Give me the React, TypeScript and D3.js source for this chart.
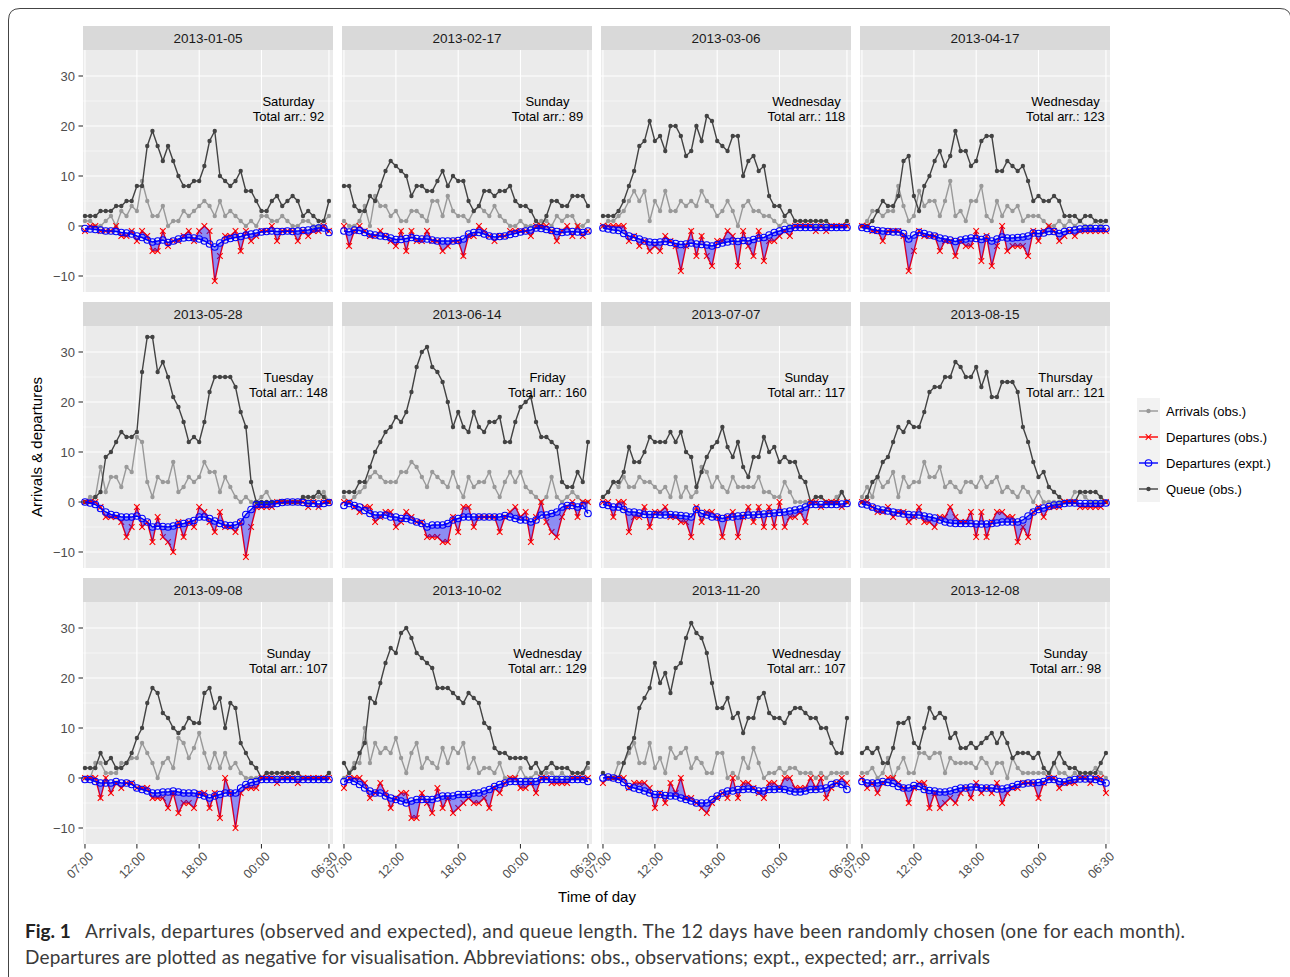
import React from "react";
import * as d3 from "d3";

// facets, one per month
const dates = ["2013-01-05", "2013-02-17", "2013-03-06", "2013-04-17", "2013-05-28", "2013-06-14",
  "2013-07-07", "2013-08-15", "2013-09-08", "2013-10-02", "2013-11-20", "2013-12-08"];
const weekdays = ["Saturday", "Sunday", "Wednesday", "Wednesday", "Tuesday", "Friday",
  "Sunday", "Thursday", "Sunday", "Wednesday", "Wednesday", "Sunday"];
const totalArrivals = [92, 89, 118, 123, 148, 160, 117, 121, 107, 129, 107, 98];

// 48 half-hour slots from 07:00 to 06:30 (hours after 07:00)
const slots = d3.range(48).map(i => i * 0.5);
const tickHours = [0, 5, 11, 17, 23.5];
const tickLabels = ["07:00", "12:00", "18:00", "00:00", "06:30"];
const yTicks = [-10, 0, 10, 20, 30];
const yMinor = [-5, 5, 15, 25];

const arrivals = [
  [1,1,0,0,1,2,0,3,2,4,3,9,5,2,2,4,0,1,1,3,2,3,4,5,4,2,5,2,3,2,1,0,1,0,2,2,1,1,2,1,0,0,1,1,0,0,1,2],
  [1,0,0,1,4,0,6,4,4,2,3,1,1,3,3,2,1,5,5,2,6,3,2,2,1,3,4,3,2,4,2,1,0,0,1,0,0,0,1,1,0,2,1,2,2,0,0,1],
  [0,1,1,2,3,5,7,5,7,1,5,3,7,3,3,5,4,5,4,7,5,4,2,3,5,3,0,4,5,3,3,2,2,1,0,1,0,0,0,0,0,0,0,0,0,0,0,0],
  [0,1,3,3,2,3,3,8,4,1,2,7,4,5,5,2,5,9,2,3,1,5,5,8,2,1,5,2,4,3,4,1,2,2,2,1,0,0,1,0,1,0,1,0,0,1,0,1],
  [0,1,1,7,2,5,5,3,7,6,13,12,4,1,5,4,4,8,2,3,5,4,5,8,6,6,2,5,3,1,0,1,0,0,1,2,0,0,0,0,0,0,1,0,1,1,2,0],
  [1,0,1,2,3,5,6,5,4,4,4,6,6,8,7,5,3,6,5,4,3,6,3,1,5,3,4,4,6,3,1,4,6,4,6,3,2,1,0,1,5,1,0,1,2,1,0,0],
  [1,2,4,3,5,3,3,5,4,4,3,2,3,1,5,1,3,1,2,7,6,3,5,3,2,5,3,3,3,3,5,2,2,1,1,4,2,0,0,0,0,1,1,0,0,1,2,0],
  [1,3,1,5,3,4,6,1,5,3,4,4,8,5,5,7,3,4,3,2,4,4,3,5,3,4,5,2,3,2,1,3,2,0,2,0,0,0,0,0,0,2,2,1,0,0,0,0],
  [0,0,3,3,1,1,1,3,3,4,4,7,5,3,0,3,4,2,8,7,4,6,9,5,2,5,2,5,2,3,1,0,0,0,0,1,0,0,0,0,0,0,0,0,0,0,0,1],
  [0,1,3,3,10,3,7,5,6,5,8,4,1,5,7,2,4,3,2,6,3,6,5,7,2,4,1,2,2,1,3,0,0,0,2,0,0,1,0,1,1,0,1,0,0,0,1,2],
  [1,0,0,3,3,5,7,3,3,7,2,4,1,6,4,5,6,2,4,3,1,1,5,5,0,1,0,4,2,6,3,0,1,1,2,1,2,2,1,1,1,0,1,0,1,1,1,1],
  [1,1,2,0,1,4,0,2,4,1,1,5,5,4,5,5,1,4,3,3,3,3,2,4,3,1,3,3,0,4,2,1,1,1,1,1,0,3,1,1,0,1,0,0,1,2,1,0],
];

const queue = [
  [2,2,2,3,3,3,4,4,5,5,8,8,16,19,16,13,16,13,10,8,8,9,9,12,17,19,10,9,8,9,11,7,7,5,3,3,5,6,4,5,6,5,2,3,2,1,1,5],
  [8,8,4,3,3,6,5,8,11,13,12,11,10,6,8,8,7,7,9,11,8,10,9,9,5,3,4,7,7,6,7,7,8,5,4,4,3,1,0,2,5,5,4,4,6,6,6,4],
  [2,2,2,3,5,8,11,16,17,21,17,18,15,20,20,18,14,15,20,17,22,21,17,16,15,18,18,10,13,14,11,12,6,4,4,2,3,1,1,1,1,1,1,1,0,0,0,1],
  [0,0,1,3,5,4,4,6,13,14,6,3,8,10,13,15,12,14,19,15,15,12,13,17,18,18,11,11,13,12,11,12,9,5,6,5,5,6,5,2,2,2,1,2,2,1,1,1],
  [0,0,1,2,9,10,12,14,13,13,14,26,33,33,26,28,25,21,19,16,12,13,12,16,22,25,25,25,25,23,18,15,4,0,0,0,0,0,0,0,0,0,1,1,1,2,1,0],
  [2,2,2,4,4,7,10,12,14,15,17,16,18,22,27,30,31,27,26,24,20,15,18,15,14,18,15,14,16,16,17,12,12,16,19,20,21,16,13,13,12,11,4,3,3,6,4,12],
  [1,2,4,4,6,11,8,8,10,13,12,12,12,14,12,14,10,9,3,6,9,11,12,15,11,9,12,7,5,9,9,13,10,11,8,9,8,8,5,4,0,1,1,0,0,0,2,0],
  [0,1,4,5,8,9,12,15,14,16,15,15,18,22,23,23,25,25,28,27,25,25,27,23,26,21,21,24,24,24,22,15,12,8,5,6,3,2,1,0,0,0,2,2,2,2,1,0],
  [2,2,2,5,3,4,2,2,3,5,8,10,15,18,17,13,12,10,9,10,12,11,11,17,18,14,16,10,15,14,7,5,3,2,0,1,1,1,1,1,1,1,0,0,0,0,0,1],
  [3,1,2,5,7,16,15,19,23,26,25,29,30,28,25,24,23,22,18,18,18,17,16,15,17,16,15,11,10,6,5,5,4,4,4,4,2,3,1,2,3,2,2,2,1,1,1,3],
  [1,0,0,0,3,6,8,14,16,18,23,19,21,17,22,23,28,31,29,28,25,19,14,14,16,12,13,9,12,12,16,17,13,12,12,11,13,14,14,13,12,12,10,10,7,5,5,12],
  [5,6,5,6,3,3,6,11,11,12,7,6,10,14,12,13,12,8,9,6,6,7,6,7,8,9,7,9,7,4,5,5,5,4,5,2,1,3,5,3,2,2,1,1,1,1,3,5],
];

const depObs = [
  [-1,0,0,-1,-1,-1,0,-2,-2,-1,-3,-1,-2,-5,-5,-1,-4,-3,-3,-2,-1,-3,-1,0,-1,-11,-6,-2,-2,-1,-5,-1,-3,-2,-1,-1,0,-3,-1,-1,-1,-3,-1,-2,-1,-1,0,-1],
  [0,-4,-1,0,-1,-2,-2,-1,-2,-3,-4,-1,-5,-1,-3,-3,-1,-3,-3,-5,-4,-3,-3,-6,-2,-2,0,-1,-2,-3,-2,-2,-1,-1,-1,-1,-2,0,0,0,-1,-3,-1,0,-2,0,-2,-1],
  [0,0,0,0,0,-3,-2,-4,-3,-5,-4,-5,-2,-3,-4,-9,-4,-1,-6,-2,-6,-8,-3,-3,-1,-2,-8,-1,-4,-6,-1,-7,-3,-3,-2,-1,-2,0,0,0,0,-1,0,-1,0,0,0,0],
  [0,0,-1,-1,-3,-1,-1,-1,-2,-9,-5,-1,-2,-2,-2,-5,-3,-3,-6,-3,-4,-4,-1,-7,-2,-8,-4,0,-5,-4,-4,-4,-6,-1,-3,-1,0,-1,-3,-2,-1,-2,-1,-1,-1,-1,-1,-1],
  [0,0,0,-1,-3,-3,-3,-4,-7,-5,-1,-5,-4,-8,-3,-7,-8,-10,-4,-7,-4,-5,-1,-2,-4,-6,-2,-5,-5,-6,-4,-11,-5,-1,-1,-1,-1,0,0,0,0,0,0,-1,0,-1,0,0],
  [0,0,-1,-2,-1,-1,-4,-3,-2,-2,-5,-4,-2,-3,-4,-4,-7,-7,-7,-8,-8,-3,-6,-1,-1,-5,-3,-3,-3,-3,-6,-3,-2,-1,-3,-2,-8,-3,0,-4,-6,-7,-3,-1,0,-3,0,0],
  [0,0,-3,0,0,-6,-3,-3,-1,-5,-2,-2,-1,-3,-3,-4,-4,-7,-1,-4,-2,-2,-3,-7,-3,-2,-7,-3,-1,-4,-1,-5,-1,-5,0,-5,-3,-3,-2,-4,0,0,-1,0,0,0,-1,0],
  [0,0,-1,-2,-2,-1,-3,-2,-2,-4,-3,-1,-4,-4,-5,-3,-3,-1,-3,-4,-4,-2,-7,-2,-7,-4,-2,-2,-3,-3,-8,-5,-7,-2,-1,-3,-1,-1,-1,0,0,0,-1,-1,-1,-1,-1,0],
  [0,0,0,-4,0,-3,-1,-2,-1,-1,-2,-2,-2,-4,-4,-4,-6,-3,-7,-5,-5,-6,-3,-3,-6,-3,-8,0,-3,-10,-3,-2,-2,-2,0,0,0,-1,0,0,0,-1,0,0,0,0,0,0],
  [-2,0,0,0,-1,-4,-3,-1,-3,-6,-4,-3,-3,-8,-8,-3,-5,-7,-2,-6,-4,-7,-6,-5,-4,-5,-5,-4,-6,-2,-3,-1,0,0,-2,-2,-1,-3,0,0,-1,-1,-1,-1,0,0,0,0],
  [-1,0,0,0,0,-2,-1,-1,-1,-2,-6,-3,-5,-1,-3,0,-4,-4,-5,-6,-7,-5,-4,-3,-4,0,-4,-1,-1,-2,-3,-4,-1,-1,-2,0,0,-2,-2,-2,0,-2,0,-4,-2,-1,0,-1],
  [0,-2,-1,-3,-1,0,0,-1,-2,-5,-2,-1,-1,-6,-3,-6,-5,-4,-5,-3,-2,-4,-1,-3,-2,-3,-1,-5,-3,-2,-2,-1,-1,-1,-4,-1,0,0,-2,-1,-1,-1,0,0,-1,0,0,-3],
];

const depExp = [
  [-0.5,-0.6,-0.7,-0.8,-1.0,-1.0,-1.1,-1.3,-1.4,-1.6,-2.0,-2.3,-2.8,-3.2,-3.0,-2.8,-3.3,-3.0,-2.6,-2.4,-2.3,-2.4,-2.6,-3.0,-3.6,-4.2,-3.4,-2.8,-2.5,-2.3,-2.1,-1.8,-1.6,-1.4,-1.2,-1.1,-1.0,-1.1,-1.1,-1.0,-1.1,-1.0,-0.9,-0.8,-0.6,-0.4,-0.4,-1.3],
  [-1.0,-1.2,-0.8,-0.9,-1.3,-1.6,-1.8,-2.0,-2.1,-2.4,-2.7,-2.7,-2.5,-2.3,-2.5,-2.6,-2.6,-2.8,-3.0,-3.0,-3.0,-3.0,-2.9,-2.6,-1.6,-1.3,-1.3,-1.6,-2.0,-2.2,-2.1,-2.0,-1.7,-1.5,-1.2,-1.0,-0.8,-0.4,-0.5,-0.7,-0.9,-1.1,-1.3,-1.2,-1.1,-1.2,-1.3,-1.0],
  [-0.4,-0.6,-0.8,-0.9,-1.5,-2.0,-2.3,-2.6,-3.0,-3.2,-3.3,-3.2,-3.1,-3.3,-3.5,-3.7,-3.6,-3.4,-3.6,-3.7,-3.8,-4.0,-3.7,-3.4,-3.2,-3.0,-3.1,-2.9,-3.0,-2.7,-2.4,-2.3,-1.8,-1.3,-1.0,-0.7,-0.5,-0.3,-0.3,-0.3,-0.3,-0.3,-0.3,-0.3,-0.3,-0.3,-0.3,-0.3],
  [-0.3,-0.5,-0.7,-0.9,-1.0,-1.1,-1.2,-1.2,-1.5,-2.6,-1.8,-1.3,-1.5,-1.8,-2.0,-2.4,-2.6,-2.8,-3.1,-2.8,-2.6,-2.4,-2.5,-2.7,-2.4,-3.0,-2.6,-2.2,-2.4,-2.4,-2.3,-2.2,-2.0,-1.4,-1.5,-1.4,-1.1,-1.1,-1.5,-1.1,-0.9,-0.8,-0.6,-0.5,-0.5,-0.5,-0.5,-0.5],
  [0,-0.2,-0.5,-1.3,-2.0,-2.5,-2.7,-3.0,-3.0,-3.0,-2.8,-3.3,-4.0,-5.0,-4.8,-4.9,-5.0,-4.8,-4.5,-4.3,-4.0,-3.7,-3.0,-3.0,-3.3,-3.8,-4.3,-4.6,-4.7,-4.6,-4.0,-2.5,-1.5,-0.5,-0.5,-0.5,-0.4,-0.3,-0.1,0,0,0,-0.1,-0.3,-0.3,-0.4,-0.3,-0.1],
  [-0.7,-0.3,-0.7,-1.0,-1.7,-2.3,-2.6,-2.6,-2.6,-3.0,-3.0,-3.3,-3.3,-3.6,-4.0,-4.3,-5.0,-4.6,-4.6,-4.6,-4.3,-3.6,-3.3,-3.0,-3.0,-3.0,-3.0,-3.0,-3.0,-3.0,-3.0,-2.7,-3.0,-3.3,-3.6,-3.6,-4.0,-3.6,-2.6,-2.6,-2.3,-2.0,-1.0,-0.7,-0.7,-1.0,-0.7,-2.3],
  [-0.5,-0.7,-1.0,-1.0,-1.5,-2.0,-2.0,-2.2,-2.5,-2.5,-2.5,-2.6,-2.6,-2.5,-2.6,-2.7,-2.8,-3.0,-1.5,-2.3,-2.6,-3.0,-3.0,-3.3,-3.0,-3.0,-2.8,-2.7,-2.6,-2.6,-2.5,-2.4,-2.3,-2.2,-2.1,-2.0,-1.8,-1.6,-1.4,-1.0,-0.5,-0.5,-0.5,-0.5,-0.5,-0.5,-0.4,-0.3],
  [-0.4,-0.6,-1.0,-1.4,-1.6,-1.8,-2.0,-2.2,-2.4,-2.5,-2.6,-2.6,-2.8,-3.0,-3.2,-3.6,-4.0,-4.2,-4.3,-4.3,-4.3,-4.3,-4.4,-4.4,-4.4,-4.3,-4.2,-4.0,-4.0,-4.0,-4.0,-3.6,-2.8,-2.0,-1.5,-1.2,-0.9,-0.6,-0.5,-0.3,-0.2,-0.2,-0.3,-0.3,-0.3,-0.3,-0.3,-0.2],
  [-0.3,-0.3,-0.7,-1.0,-1.0,-1.0,-0.7,-1.0,-1.0,-1.3,-2.0,-2.3,-2.6,-3.0,-3.0,-2.8,-2.8,-2.6,-2.8,-3.0,-3.0,-3.0,-3.3,-3.6,-4.0,-3.6,-3.3,-3.0,-3.0,-3.0,-2.0,-1.3,-0.9,-0.7,-0.3,-0.3,-0.3,-0.3,-0.3,-0.3,-0.3,-0.3,-0.3,-0.3,-0.3,-0.3,-0.3,-0.3],
  [-0.7,-0.3,-0.7,-1.3,-2.0,-2.6,-3.0,-3.0,-3.6,-4.0,-4.3,-4.6,-5.0,-4.6,-4.3,-4.3,-4.3,-4.3,-4.0,-3.6,-3.6,-3.6,-3.3,-3.3,-3.3,-3.0,-3.0,-2.6,-2.3,-1.7,-1.3,-1.0,-0.7,-0.7,-0.7,-0.7,-0.7,-0.7,-0.3,-0.3,-0.3,-0.3,-0.3,-0.3,-0.3,-0.3,-0.3,-0.7],
  [0,0.2,0,-0.3,-0.9,-1.7,-2.0,-2.3,-2.6,-3.0,-3.3,-3.3,-3.5,-3.6,-3.6,-4.0,-4.3,-4.6,-5.0,-5.0,-5.0,-4.3,-3.6,-3.0,-2.6,-2.6,-2.3,-2.3,-2.2,-2.3,-2.6,-2.6,-2.3,-2.3,-2.2,-2.3,-2.6,-2.8,-2.8,-2.6,-2.3,-2.3,-2.2,-2.0,-1.3,-1.0,-1.3,-2.3],
  [-0.7,-1.0,-1.0,-1.0,-0.7,-0.9,-1.1,-1.7,-2.0,-2.0,-1.5,-1.7,-2.3,-2.5,-2.6,-2.8,-2.8,-2.6,-2.3,-2.0,-2.0,-1.8,-1.8,-2.0,-2.0,-2.0,-2.2,-2.2,-2.0,-1.7,-1.3,-1.2,-1.0,-1.0,-0.9,-0.7,-0.3,-0.3,-0.7,-0.8,-0.5,-0.3,-0.2,-0.2,-0.2,-0.3,-0.7,-1.0],
];

// where the weekday note sits (data units)
const noteHour = 19.6;
const noteValue = 24;

const legendLabels = ["Arrivals (obs.)", "Departures (obs.)", "Departures (expt.)", "Queue (obs.)"];

const W = 1290, H = 977;
const panelW = 250, panelH = 242;
const left0 = 83, top0 = 50, colStep = 259, rowStep = 276, stripH = 24;

const arrColor = "#999999";
const queueColor = "#434343";
const font = "'Liberation Sans', Arial, sans-serif";
const lw = 1.4;

const x = d3.scaleLinear().domain([-0.19, 23.89]).range([0, panelW]);
const y = d3.scaleLinear().domain([-13.2, 35.2]).range([panelH, 0]);

const line = d3.line<number>().x((d, i) => x(slots[i])).y(d => y(d));
const crossPath = "M-2.8,-2.8L2.8,2.8M-2.8,2.8L2.8,-2.8";

function Panel({ k }: { k: number }) {
  const col = k % 4, row = Math.floor(k / 4);
  const px = left0 + col * colStep, py = top0 + row * rowStep;
  const ribbon = d3.area<number>()
    .x((d, i) => x(slots[i]))
    .y0(d => y(d))
    .y1((d, i) => y(depExp[k][i]));
  return (
    <g>
      <g transform={`translate(${px},${py - stripH})`}>
        <rect width={panelW} height={stripH} fill="#d9d9d9" />
        <text x={panelW / 2} y={stripH / 2} dy="0.35em" textAnchor="middle" fontSize={13.5} fill="#1a1a1a">{dates[k]}</text>
      </g>
      <g transform={`translate(${px},${py})`}>
        <rect width={panelW} height={panelH} fill="#ebebeb" />
        {yMinor.map(v => <line key={"m" + v} x1={0} x2={panelW} y1={y(v)} y2={y(v)} stroke="#fff" strokeWidth={0.55} />)}
        {yTicks.map(v => <line key={"y" + v} x1={0} x2={panelW} y1={y(v)} y2={y(v)} stroke="#fff" strokeWidth={1.1} />)}
        {tickHours.map(h => <line key={"x" + h} x1={x(h)} x2={x(h)} y1={0} y2={panelH} stroke="#fff" strokeWidth={1.1} />)}

        <path d={line(arrivals[k]) || ""} fill="none" stroke={arrColor} strokeWidth={lw} />
        {arrivals[k].map((d, i) => <circle key={"a" + i} cx={x(slots[i])} cy={y(d)} r={2.2} fill={arrColor} />)}

        <path d={line(queue[k]) || ""} fill="none" stroke={queueColor} strokeWidth={lw} />
        {queue[k].map((d, i) => <circle key={"q" + i} cx={x(slots[i])} cy={y(d)} r={2.2} fill={queueColor} />)}

        <path d={line(depObs[k]) || ""} fill="none" stroke="#ff0000" strokeWidth={lw} />
        {depObs[k].map((d, i) => <path key={"r" + i} d={crossPath} transform={`translate(${x(slots[i])},${y(d)})`} stroke="#ff0000" strokeWidth={1.1} fill="none" />)}

        <path d={ribbon(depObs[k]) || ""} fill="#0000ff" fillOpacity={0.4} />

        <path d={line(depExp[k]) || ""} fill="none" stroke="#0000ff" strokeWidth={lw} />
        {depExp[k].map((d, i) => <circle key={"b" + i} cx={x(slots[i])} cy={y(d)} r={3.3} fill="none" stroke="#0000ff" strokeWidth={1.1} />)}

        <text x={x(noteHour)} y={y(noteValue)} textAnchor="middle" fontSize={13} fill="#000">
          <tspan x={x(noteHour)}>{weekdays[k]}</tspan>
          <tspan x={x(noteHour)} dy={15}>{`Total arr.: ${totalArrivals[k]}`}</tspan>
        </text>

        {col === 0 && yTicks.map(v => (
          <g key={"yt" + v} transform={`translate(0,${y(v)})`}>
            <line x1={-4.5} x2={0} stroke="#333" strokeWidth={1.1} />
            <text x={-8} dy="0.35em" textAnchor="end" fontSize={13} fill="#4d4d4d">{v < 0 ? `\u2212${-v}` : v}</text>
          </g>
        ))}
        {row === 2 && tickHours.map((h, i) => (
          <g key={"xt" + h} transform={`translate(${x(h)},${panelH})`}>
            <line y1={0} y2={4.5} stroke="#333" strokeWidth={1.1} />
            <text transform="translate(3,7) rotate(-45)" dy="0.7em" textAnchor="end" fontSize={12.5} fill="#4d4d4d">{tickLabels[i]}</text>
          </g>
        ))}
      </g>
    </g>
  );
}

function LegendKey({ i }: { i: number }) {
  const cy = 411 + i * 26;
  const kx = 1137, kw = 23;
  const colors = [arrColor, "#ff0000", "#0000ff", queueColor];
  return (
    <g>
      <rect x={kx} y={cy - 13} width={kw} height={26} fill="#f2f2f2" />
      <line x1={kx + 2} x2={kx + kw - 2} y1={cy} y2={cy} stroke={colors[i]} strokeWidth={lw} />
      {i === 1 && <path d={crossPath} transform={`translate(${kx + kw / 2},${cy})`} stroke="#ff0000" strokeWidth={1.1} fill="none" />}
      {i === 2 && <circle cx={kx + kw / 2} cy={cy} r={3.3} fill="none" stroke="#0000ff" strokeWidth={1.1} />}
      {(i === 0 || i === 3) && <circle cx={kx + kw / 2} cy={cy} r={2.2} fill={colors[i]} />}
      <text x={1166} y={cy} dy="0.35em" fontSize={13} fill="#000">{legendLabels[i]}</text>
    </g>
  );
}

export default function App() {
  return (
    <svg width={W} height={H} style={{ position: "absolute", left: 0, top: 0, background: "#fff" }} fontFamily={font}>
      <path d="M8.5,977 L8.5,20 Q8.5,8.5 20,8.5 L1280,8.5 Q1290,8.5 1291,18" fill="none" stroke="#444" strokeWidth={1} />
      {dates.map((d, k) => <Panel key={d} k={k} />)}
      {legendLabels.map((l, i) => <LegendKey key={l} i={i} />)}
      <text transform="translate(42,447) rotate(-90)" textAnchor="middle" fontSize={15} fill="#000">Arrivals &amp; departures</text>
      <text x={597} y={902} textAnchor="middle" fontSize={15} fill="#000">Time of day</text>
      <text x={25} y={938} fontSize={19} fontFamily="Lato, 'Open Sans', sans-serif" fontWeight="bold" fill="#222">Fig. 1</text>
      <text x={85} y={938} fontSize={19} fontFamily="Lato, 'Open Sans', sans-serif" fill="#3a3a3a" textLength={1100} lengthAdjust="spacing">
        Arrivals, departures (observed and expected), and queue length. The 12 days have been randomly chosen (one for each month).
      </text>
      <text x={25} y={964} fontSize={19} fontFamily="Lato, 'Open Sans', sans-serif" fill="#3a3a3a" textLength={965} lengthAdjust="spacing">
        Departures are plotted as negative for visualisation. Abbreviations: obs., observations; expt., expected; arr., arrivals
      </text>
    </svg>
  );
}
